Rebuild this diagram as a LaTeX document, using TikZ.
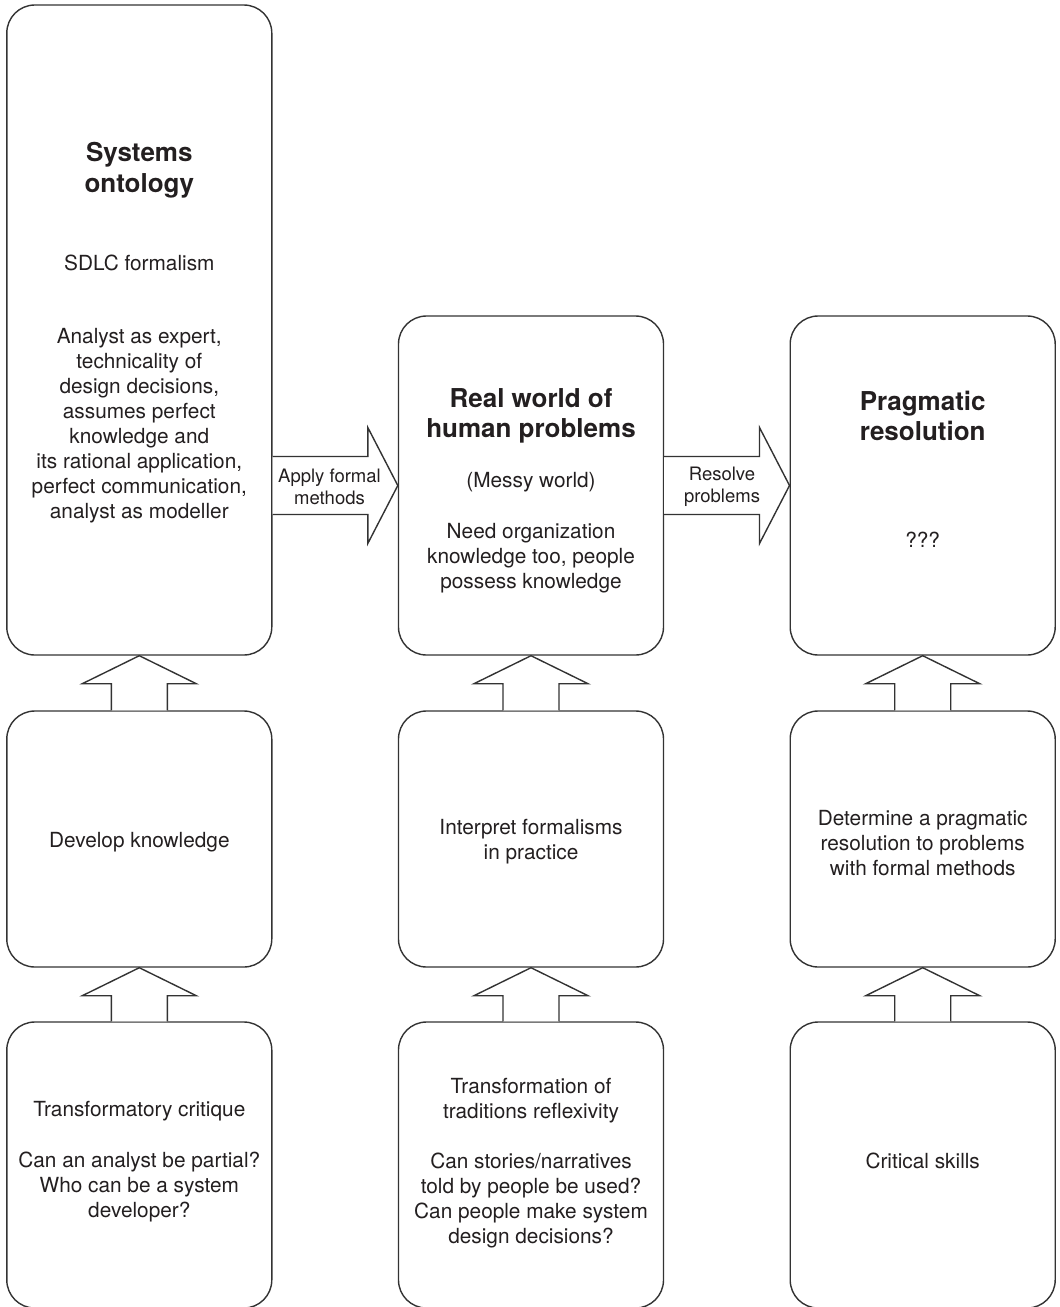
\documentclass[tikz,border=0pt]{standalone}
\usepackage{fontspec}
\setmainfont{TeX Gyre Heros}
\usetikzlibrary{calc}
\definecolor{linec}{HTML}{333333}
\definecolor{textc}{HTML}{231F20}
\begin{document}
\begin{tikzpicture}[x=1pt,y=-1pt,
  box/.style={draw=linec,line width=1.4pt,rounded corners=28pt,minimum width=265pt,inner sep=0pt,fill=none},
  row1L/.style={box,minimum height=650pt},
  row1/.style={box,minimum height=339pt},
  row2/.style={box,minimum height=256pt},
  row3/.style={box,minimum height=286pt},
  txt/.style={align=center,text=textc,inner sep=0pt,font=\fontsize{20.8}{25}\selectfont},
  ttl/.style={align=center,text=textc,inner sep=0pt,font=\fontsize{26}{30.5}\selectfont\bfseries},
  lbl/.style={align=center,text=textc,inner sep=0pt,font=\fontsize{18.5}{21.5}\selectfont},
  blockarrow/.style={draw=linec,line width=1.4pt,line join=miter,fill=white}
]
\useasboundingbox (0,0) rectangle (1060,1307);
\fill[white] (0,0) rectangle (1060,1307);

% boxes
\node[row1L] (L1) at (139.3,330) {};
\node[row1]  (M1) at (531,485.5) {};
\node[row1]  (R1) at (922.7,485.5) {};
\node[row2]  (L2) at (139.3,839) {};
\node[row2]  (M2) at (531,839) {};
\node[row2]  (R2) at (922.7,839) {};
\node[row3]  (L3) at (139.3,1165) {};
\node[row3]  (M3) at (531,1165) {};
\node[row3]  (R3) at (922.7,1165) {};

% horizontal block arrows
\foreach \a/\b in {L1/M1,M1/R1}{
  \draw[blockarrow] (\a.east |- \b.west) ++(0,-29) coordinate (s)
    -- ($(\b.west)+(-30,-29)$) -- ($(\b.west)+(-30,-58)$) -- (\b.west)
    -- ($(\b.west)+(-30,58)$) -- ($(\b.west)+(-30,29)$) -- ($(\a.east |- \b.west)+(0,29)$);
}
% vertical block arrows
\foreach \a/\b in {L2/L1,M2/M1,R2/R1,L3/L2,M3/M2,R3/R2}{
  \draw[blockarrow] ($(\a.north)+(-28,0)$) -- ($(\b.south)+(-28,28)$) -- ($(\b.south)+(-57,28)$)
    -- (\b.south) -- ($(\b.south)+(57,28)$) -- ($(\b.south)+(28,28)$) -- ($(\a.north)+(28,0)$);
}

% arrow labels
\node[lbl] (la) at (329.5,487) {Apply formal\\methods};
\node[lbl] (lb) at (722,487) {Resolve\\problems};

% texts top row
\node[ttl] (t1) at (139.3,170) {Systems\\ontology};
\node[txt] (t2) at (139.3,263) {SDLC formalism};
\node[txt] (t3) at (139.3,426) {Analyst as expert,\\technicality of\\design decisions,\\assumes perfect\\knowledge and\\its rational application,\\perfect communication,\\analyst as modeller};
\node[ttl] (t4) at (531,416) {Real world of\\human problems};
\node[txt] (t5) at (531,482) {(Messy world)};
\node[txt] (t6) at (531,558) {Need organization\\knowledge too, people\\possess knowledge};
\node[ttl] (t7) at (922.7,416) {Pragmatic\\resolution};
\node[txt] (t8) at (922.7,540) {???};

% second row
\node[txt] (t9) at (139.3,842) {Develop knowledge};
\node[txt] (t10) at (531,842) {Interpret formalisms\\in practice};
\node[txt] (t11) at (922.7,843) {Determine a pragmatic\\resolution to problems\\with formal methods};

% third row
\node[txt] (t12) at (139.3,1111) {Transformatory critique};
\node[txt] (t13) at (139.3,1187) {Can an analyst be partial?\\Who can be a system\\developer?};
\node[txt] (t14) at (531,1101) {Transformation of\\traditions reflexivity};
\node[txt] (t15) at (531,1200) {Can stories/narratives\\told by people be used?\\Can people make system\\design decisions?};
\node[txt] (t16) at (922.7,1161) {Critical skills};
\end{tikzpicture}
\end{document}
